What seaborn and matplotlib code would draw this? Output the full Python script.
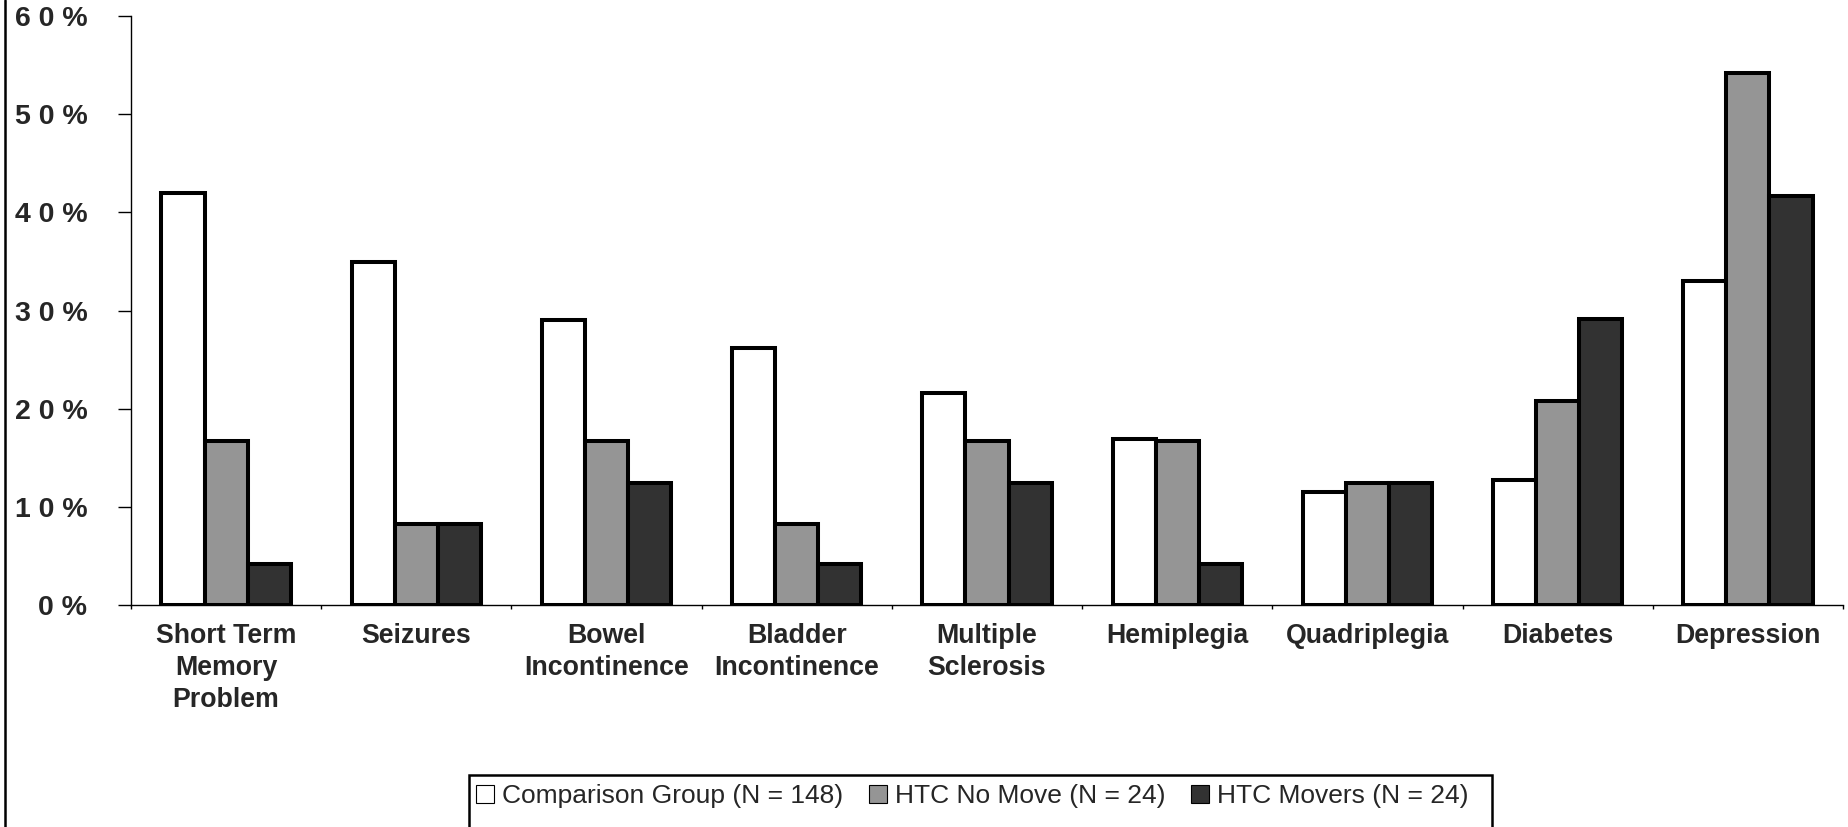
import matplotlib
matplotlib.use("Agg")
import matplotlib.pyplot as plt
from matplotlib.patches import Rectangle, Patch
from matplotlib.lines import Line2D
from matplotlib.ticker import FixedLocator
import seaborn as sns
import pandas as pd

categories = ["Short Term\nMemory\nProblem", "Seizures", "Bowel\nIncontinence",
              "Bladder\nIncontinence", "Multiple\nSclerosis", "Hemiplegia",
              "Quadriplegia", "Diabetes", "Depression"]
series_names = ["Comparison Group (N = 148)", "HTC No Move (N = 24)", "HTC Movers (N = 24)"]
comparison = [42.0, 35.0, 29.0, 26.2, 21.6, 16.9, 11.5, 12.8, 33.0]
no_move = [16.7, 8.3, 16.7, 8.3, 16.7, 16.7, 12.5, 20.8, 54.2]
movers = [4.2, 8.3, 12.5, 4.2, 12.5, 4.2, 12.5, 29.2, 41.7]
y_ticks = [0, 10, 20, 30, 40, 50, 60]
y_tick_labels = ["0 %", "1 0 %", "2 0 %", "3 0 %", "4 0 %", "5 0 %", "6 0 %"]
colors = ["#ffffff", "#959595", "#323232"]

rows = []
for name, vals in zip(series_names, [comparison, no_move, movers]):
    for c, v in zip(categories, vals):
        rows.append({"Condition": c, "Group": name, "Value": v})
df = pd.DataFrame(rows)

sns.set_theme(style="white")
plt.rcParams["font.family"] = ["Liberation Sans", "DejaVu Sans"]

W, H = 1848, 827
fig = plt.figure(figsize=(W / 100, H / 100), dpi=100)
ax = fig.add_axes([131 / W, 1 - 605.3 / H, (1843 - 131) / W, (605.3 - 16) / H])

sns.barplot(data=df, x="Condition", y="Value", hue="Group", order=categories,
            hue_order=series_names, palette=colors, edgecolor="black",
            linewidth=2.9, width=0.68, saturation=1, ax=ax, legend=False,
            errorbar=None)

ax.set_ylim(0, 60)
ax.set_xlim(-0.5, len(categories) - 0.5)
ax.set_xlabel("")
ax.set_ylabel("")
ax.set_yticks(y_ticks)
ax.set_yticklabels(y_tick_labels, fontsize=20.5, fontweight="bold")
ax.tick_params(axis="y", direction="out", length=9.4, width=1, color="black",
               pad=22, left=True)
ax.set_xticks(range(len(categories)))
ax.set_xticklabels(categories, fontsize=19.3, fontweight="bold", linespacing=1.3)
ax.tick_params(axis="x", which="major", length=0, pad=13)
ax.xaxis.set_minor_locator(FixedLocator([i - 0.5 for i in range(len(categories) + 1)]))
ax.tick_params(axis="x", which="minor", direction="out", length=3, width=1,
               color="black", bottom=True)
for s in ["top", "right"]:
    ax.spines[s].set_visible(False)
for s in ["left", "bottom"]:
    ax.spines[s].set_visible(True)
    ax.spines[s].set_color("black")
    ax.spines[s].set_linewidth(1)
ax.grid(False)

# outer frame left edge
fig.add_artist(Line2D([5 / W, 5 / W], [0, 1], transform=fig.transFigure,
                      color="black", linewidth=1.8))

# legend box (cut at bottom like reference)
fig.add_artist(Rectangle((469 / W, -0.05), (1492 - 469) / W, 0.05 + (1 - 775 / H),
                         transform=fig.transFigure, facecolor="white",
                         edgecolor="black", linewidth=1.8))
handles = [Patch(facecolor=c, edgecolor="black", linewidth=0.8) for c in colors]
fig.legend(handles, series_names, loc="center left",
           bbox_to_anchor=(476 / W, 1 - 796 / H), ncol=3, frameon=False,
           fontsize=19.0, handlelength=0.7, handleheight=0.7,
           handletextpad=0.3, columnspacing=0.95, borderaxespad=0, borderpad=0)

fig.savefig("out.png", dpi=100)
